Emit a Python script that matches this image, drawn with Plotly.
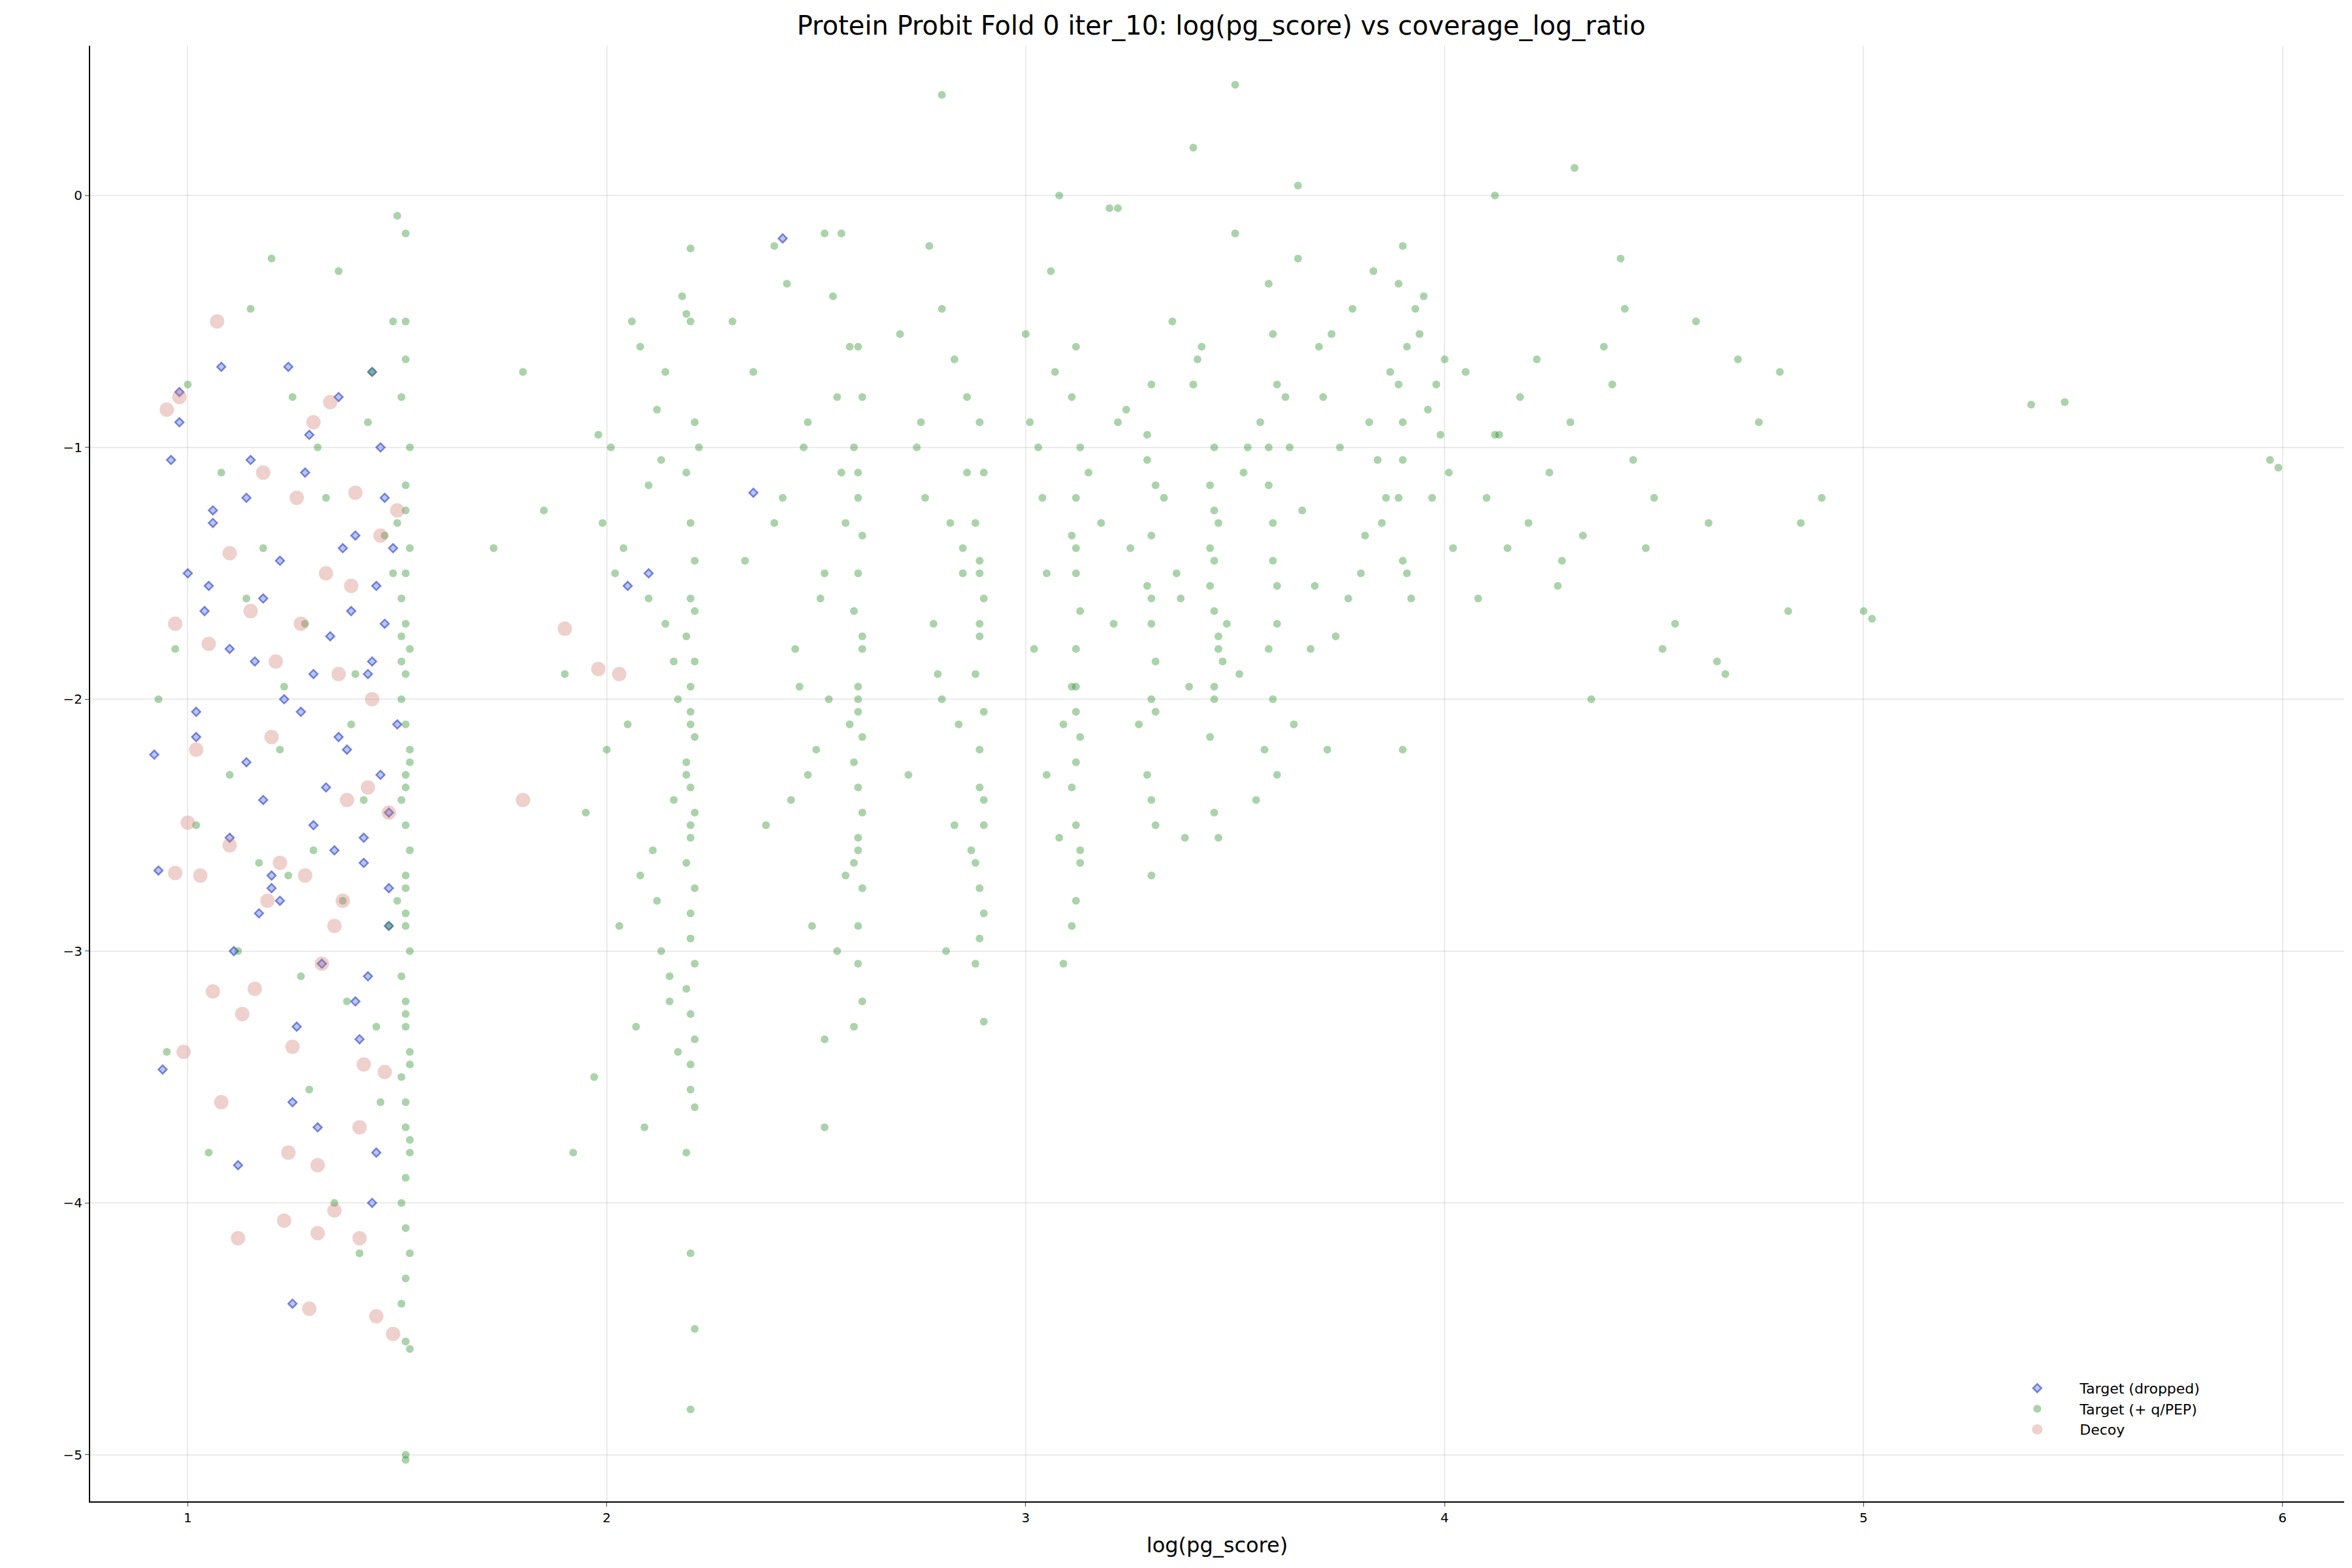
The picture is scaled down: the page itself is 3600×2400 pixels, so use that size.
import plotly.graph_objects as go

# Target (+ q/PEP) points
green_x = [
 1.52,1.51,1.53,1.52,1.50,1.53,1.52,1.51,1.52,1.53,1.52,1.51,1.52,1.53,1.52,1.51,1.52,1.53,1.52,1.50,
 1.52,1.53,1.51,1.52,1.52,1.53,1.51,1.52,1.52,1.53,1.52,1.51,1.52,1.53,1.52,1.51,1.52,1.53,1.52,1.52,
 1.52,1.51,1.53,1.52,1.52,1.53,1.51,1.52,1.52,1.53,
 0.93,0.97,1.02,1.08,1.12,1.15,1.18,1.22,1.25,1.28,1.30,1.33,1.36,1.38,1.40,1.42,1.44,1.46,1.48,1.49,
 0.95,1.00,1.05,1.10,1.14,1.20,1.24,1.27,1.31,1.35,1.39,1.43,1.45,1.47,1.49,1.41,1.37,1.29,1.23,1.17,
 2.20,2.21,2.19,2.20,2.21,2.20,2.19,2.21,2.20,2.20,2.21,2.19,2.20,2.21,2.20,2.19,2.21,2.20,2.20,2.21,
 2.19,2.20,2.21,2.20,2.20,2.21,2.19,2.20,2.21,2.20,2.22,2.20,2.19,2.21,2.20,
 1.80,1.85,1.90,1.95,1.98,2.02,2.05,2.08,2.10,2.12,2.14,2.16,2.17,2.18,2.03,2.07,2.11,2.15,1.97,2.00,
 2.04,2.09,2.13,2.16,1.92,2.06,2.10,2.14,2.01,2.12,2.17,1.99,2.08,2.15,2.13,
 2.60,2.61,2.59,2.60,2.61,2.60,2.59,2.61,2.60,2.60,2.61,2.59,2.60,2.61,2.60,2.59,2.61,2.60,2.60,2.61,
 2.59,2.60,2.61,2.60,2.60,
 2.30,2.35,2.40,2.43,2.45,2.48,2.50,2.52,2.54,2.56,2.57,2.58,2.44,2.47,2.51,2.53,2.55,2.49,2.46,2.42,
 2.38,2.33,2.55,2.57,2.52,2.48,2.40,2.52,2.56,2.58,
 2.89,2.90,2.88,2.89,2.90,2.89,2.88,2.90,2.89,2.89,2.90,2.88,2.89,2.90,2.89,2.88,2.90,2.89,2.89,2.90,
 2.70,2.74,2.78,2.80,2.82,2.84,2.86,2.87,2.76,2.79,2.83,2.85,2.72,2.81,2.77,2.85,2.80,2.75,2.83,2.86,
 3.12,3.11,3.13,3.12,3.11,3.12,3.13,3.12,3.11,3.12,3.13,3.12,3.11,3.12,3.13,3.12,3.11,3.12,3.12,3.13,
 3.00,3.03,3.05,3.07,3.09,3.02,3.06,3.08,3.04,3.01,3.09,3.05,
 3.30,3.29,3.31,3.30,3.29,3.30,3.31,3.30,3.29,3.30,3.31,3.30,3.29,3.30,3.31,
 3.45,3.44,3.46,3.45,3.44,3.45,3.46,3.45,3.44,3.45,3.46,3.45,3.44,3.45,3.46,
 3.58,3.59,3.60,3.58,3.59,3.60,3.58,3.59,3.60,3.58,3.59,3.60,
 3.90,3.89,3.91,3.90,3.89,3.90,3.91,3.90,3.89,3.90,
 3.15,3.20,3.22,3.25,3.35,3.38,3.40,3.50,3.52,3.55,3.62,3.65,3.68,3.70,3.72,3.75,3.78,3.80,3.82,3.85,
 3.87,3.92,3.95,3.97,3.99,4.00,4.02,3.18,3.24,3.36,3.42,3.48,3.53,3.64,3.71,3.77,3.83,3.86,3.94,4.01,
 3.21,3.33,3.41,3.51,3.63,3.73,3.81,3.93,3.98,3.66,3.56,3.39,3.27,3.74,3.84,3.96,3.69,3.57,3.47,3.37,
 4.05,4.08,4.10,4.12,4.15,4.18,4.20,4.22,4.25,4.28,4.30,4.33,4.35,4.38,4.40,4.43,4.45,4.48,4.50,4.55,
 4.60,4.63,4.65,4.70,4.75,4.80,4.82,4.85,4.90,5.00,5.02,5.40,5.48,5.97,5.99,4.13,4.27,4.42,4.52,4.67,
 2.80,3.50,3.65,3.08,3.22,3.40,4.31,4.12,2.52,1.50,1.73,2.19,2.20,1.52,1.52,
]
green_y = [
 -0.65,-0.80,-1.00,-1.15,-1.30,-1.40,-1.50,-1.60,-1.70,-1.80,-1.90,-2.00,-2.10,-2.20,-2.30,-2.40,-2.50,-2.60,-2.70,-2.80,
 -2.90,-3.00,-3.10,-3.20,-3.30,-3.40,-3.50,-3.60,-3.70,-3.80,-3.90,-4.00,-4.10,-4.20,-4.30,-4.40,-4.55,-4.58,-5.00,-5.02,
 -1.25,-1.75,-2.25,-2.75,-3.25,-3.75,-1.85,-2.35,-2.85,-3.45,
 -2.00,-1.80,-2.50,-1.10,-3.00,-0.45,-1.40,-2.20,-0.80,-1.70,-2.60,-1.20,-0.30,-3.20,-1.90,-2.40,-0.70,-3.60,-2.90,-1.50,
 -3.40,-0.75,-3.80,-2.30,-1.60,-0.25,-2.70,-3.10,-1.00,-4.00,-2.10,-0.90,-3.30,-1.35,-0.50,-4.20,-2.80,-3.55,-1.95,-2.65,
 -0.50,-0.90,-1.10,-1.30,-1.45,-1.60,-1.75,-1.85,-1.95,-2.05,-2.15,-2.25,-2.35,-2.45,-2.55,-2.65,-2.75,-2.85,-2.95,-3.05,
 -3.15,-3.25,-3.35,-3.45,-3.55,-3.62,-3.80,-4.20,-4.50,-4.82,-1.00,-2.10,-2.30,-1.65,-2.50,
 -0.70,-1.25,-1.90,-2.45,-0.95,-1.50,-2.10,-0.60,-1.15,-0.85,-1.70,-2.40,-2.00,-0.40,-2.90,-3.30,-2.60,-3.10,-3.50,-2.20,
 -1.40,-3.70,-3.00,-1.85,-3.80,-0.50,-1.60,-0.70,-1.00,-2.80,-3.40,-1.30,-2.70,-3.20,-1.05,
 -0.60,-0.80,-1.00,-1.20,-1.35,-1.50,-1.65,-1.80,-1.95,-2.05,-2.15,-2.25,-2.35,-2.45,-2.55,-2.65,-2.75,-2.90,-3.05,-3.20,
 -3.30,-1.10,-1.75,-2.00,-2.60,
 -0.50,-0.70,-1.30,-0.35,-1.80,-0.90,-2.20,-1.50,-0.40,-1.10,-2.70,-0.60,-2.40,-1.00,-1.60,-2.00,-0.80,-2.90,-1.95,-1.20,
 -2.50,-1.45,-3.00,-1.30,-3.35,-2.30,-0.20,-3.70,-0.15,-2.10,
 -0.90,-1.10,-1.30,-1.45,-1.60,-1.75,-1.90,-2.05,-2.20,-2.35,-2.50,-2.65,-2.75,-2.85,-2.95,-3.05,-3.28,-1.50,-1.70,-2.40,
 -0.55,-1.00,-1.70,-0.45,-1.30,-2.10,-0.80,-2.60,-1.20,-1.90,-0.65,-1.50,-2.30,-3.00,-0.20,-1.40,-2.00,-0.90,-2.50,-1.10,
 -0.60,-0.80,-1.00,-1.20,-1.35,-1.50,-1.65,-1.80,-1.95,-2.05,-2.15,-2.25,-2.35,-2.50,-2.65,-2.80,-2.90,-1.40,-1.95,-2.60,
 -0.55,-1.00,-1.50,-0.70,-2.10,-1.80,-0.30,-2.55,-1.20,-0.90,-3.05,-2.30,
 -0.75,-0.95,-1.15,-1.35,-1.55,-1.70,-1.85,-2.00,-2.30,-2.40,-2.50,-2.70,-1.05,-1.60,-2.05,
 -1.00,-1.15,-1.30,-1.45,-1.55,-1.65,-1.80,-1.95,-2.15,-2.45,-2.55,-1.25,-1.40,-2.00,-1.75,
 -0.35,-0.55,-0.75,-1.00,-1.30,-1.55,-1.80,-2.00,-2.30,-1.15,-1.45,-1.70,
 -0.20,-0.35,-0.60,-0.90,-1.20,-1.45,-1.50,-2.20,-0.75,-1.05,
 -1.10,-0.05,-0.90,-1.40,-0.50,-2.55,-0.75,-0.15,-1.10,-2.40,-0.80,-0.25,-1.80,-0.60,-2.20,-1.00,-0.45,-1.50,-0.90,-1.30,
 -0.70,-1.60,-0.40,-1.20,-0.95,-0.65,-1.40,-1.30,-0.85,-1.50,-0.60,-1.70,-1.00,-2.10,-0.80,-1.60,-0.30,-1.20,-0.55,-1.10,
 -1.70,-1.20,-0.65,-1.90,-1.00,-0.55,-1.35,-0.45,-0.75,-1.25,-0.90,-1.95,-2.10,-1.75,-1.05,-0.85,-1.55,-2.20,-1.85,-1.60,
 -0.70,-1.60,-1.20,-0.95,-1.40,-0.80,-1.30,-0.65,-1.10,-1.45,-0.90,-1.35,-2.00,-0.60,-0.75,-0.45,-1.05,-1.40,-1.20,-1.70,
 -0.50,-1.30,-1.85,-0.65,-0.90,-0.70,-1.65,-1.30,-1.20,-1.65,-1.68,-0.83,-0.82,-1.05,-1.08,-0.95,-1.55,-0.25,-1.80,-1.90,
 0.40,0.44,0.04,0.00,-0.05,0.19,0.11,0.00,-0.15,-0.08,-1.40,-0.47,-0.21,-0.50,-0.15,
]

# Target (dropped) points
blue_x = [0.92,0.93,0.94,0.96,0.98,1.00,1.02,1.04,1.06,1.08,1.10,1.12,1.14,1.16,1.18,1.20,1.22,1.24,1.25,1.27,
          1.28,1.30,1.32,1.34,1.36,1.38,1.40,1.41,1.42,1.43,1.44,1.45,1.46,1.47,1.48,1.49,1.50,1.44,1.40,1.35,
          1.30,1.26,1.22,1.18,1.14,1.10,1.06,1.02,0.98,1.46,1.48,1.43,1.39,1.33,1.29,1.23,1.17,1.11,1.05,1.45,
          1.47,1.42,1.37,1.31,1.25,1.20,1.15,1.36,1.44,1.48,2.42,2.05,2.10,2.35]
blue_y = [-2.22,-2.68,-3.47,-1.05,-0.90,-1.50,-2.15,-1.65,-1.30,-0.68,-2.55,-3.85,-1.20,-1.85,-2.40,-2.75,-1.45,-0.68,-3.60,-2.05,
          -1.10,-2.50,-3.05,-1.75,-0.80,-2.20,-1.35,-3.35,-2.65,-1.90,-0.70,-1.55,-2.30,-1.70,-2.90,-1.40,-2.10,-4.00,-3.20,-2.60,
          -1.90,-3.30,-2.80,-1.60,-2.25,-1.80,-1.25,-2.05,-0.78,-1.00,-2.45,-3.10,-1.65,-2.35,-0.95,-2.00,-2.85,-3.00,-1.55,-3.80,
          -1.20,-2.55,-1.40,-3.70,-4.40,-2.70,-1.05,-2.15,-1.85,-2.75,-0.17,-1.55,-1.50,-1.18]

# Decoy points
red_x = [0.95,0.98,1.07,0.97,1.02,0.99,1.05,1.03,1.08,1.10,1.13,1.15,1.18,1.20,1.22,1.24,1.26,1.28,1.30,1.32,
         1.34,1.36,1.38,1.40,1.42,1.44,1.46,1.48,1.50,1.21,1.25,1.29,1.33,1.37,1.41,1.45,1.49,1.16,1.12,1.19,
         1.27,1.31,1.35,1.39,1.43,1.47,1.23,1.31,1.35,1.41,1.80,1.90,1.98,2.03,0.97,1.00,1.06,1.10]
red_y = [-0.85,-0.80,-0.50,-1.70,-2.20,-3.40,-1.78,-2.70,-3.60,-2.58,-3.25,-1.65,-1.10,-2.15,-2.65,-3.80,-1.20,-2.70,-0.90,-3.05,
         -0.82,-1.90,-2.40,-1.18,-3.45,-2.00,-1.35,-2.45,-1.25,-1.85,-3.38,-4.42,-1.50,-2.80,-3.70,-4.45,-4.52,-3.15,-4.14,-2.80,
         -1.70,-3.85,-2.90,-1.55,-2.35,-3.48,-4.07,-4.12,-4.03,-4.14,-2.40,-1.72,-1.88,-1.90,-2.69,-2.49,-3.16,-1.42]

tick_vals_x = [1, 2, 3, 4, 5, 6]
tick_vals_y = [0, -1, -2, -3, -4, -5]

fig = go.Figure()
fig.add_trace(go.Scatter(x=blue_x, y=blue_y, mode="markers", name="Target (dropped)",
    marker=dict(symbol="diamond", size=10, color="rgba(100,150,255,0.5)",
                line=dict(color="rgba(40,40,180,0.55)", width=2.5))))
fig.add_trace(go.Scatter(x=green_x, y=green_y, mode="markers", name="Target (+ q/PEP)",
    marker=dict(symbol="circle", size=12, color="rgba(34,139,34,0.38)", line=dict(width=0))))
fig.add_trace(go.Scatter(x=red_x, y=red_y, mode="markers", name="Decoy",
    marker=dict(symbol="circle", size=22, color="rgba(205,120,110,0.35)", line=dict(width=0))))

axis_common = dict(showgrid=True, gridcolor="rgba(0,0,0,0.08)", gridwidth=1.5, zeroline=False,
                   showline=True, linecolor="black", linewidth=2, ticks="outside", ticklen=6,
                   tickfont=dict(size=20, family="DejaVu Sans", color="black"), mirror=False)
fig.update_layout(
    width=3600, height=2400, plot_bgcolor="white", paper_bgcolor="white",
    font=dict(family="DejaVu Sans", color="black"),
    title=dict(text="Protein Probit Fold 0 iter_10: log(pg_score) vs coverage_log_ratio",
               x=0.517, xanchor="center", y=0.993, yanchor="top", font=dict(size=40)),
    margin=dict(l=130, r=20, t=62, b=110),
    xaxis=dict(axis_common, range=[0.767, 6.147], tickvals=tick_vals_x,
               title=dict(text="log(pg_score)", font=dict(size=32), standoff=20)),
    yaxis=dict(axis_common, range=[-5.185, 0.595], tickvals=tick_vals_y),
    legend=dict(x=0.845, y=0.04, xanchor="left", yanchor="bottom", bgcolor="rgba(255,255,255,0)",
                font=dict(size=22), itemwidth=120, tracegroupgap=0),
    showlegend=True,
)
fig.write_html("out.html")
